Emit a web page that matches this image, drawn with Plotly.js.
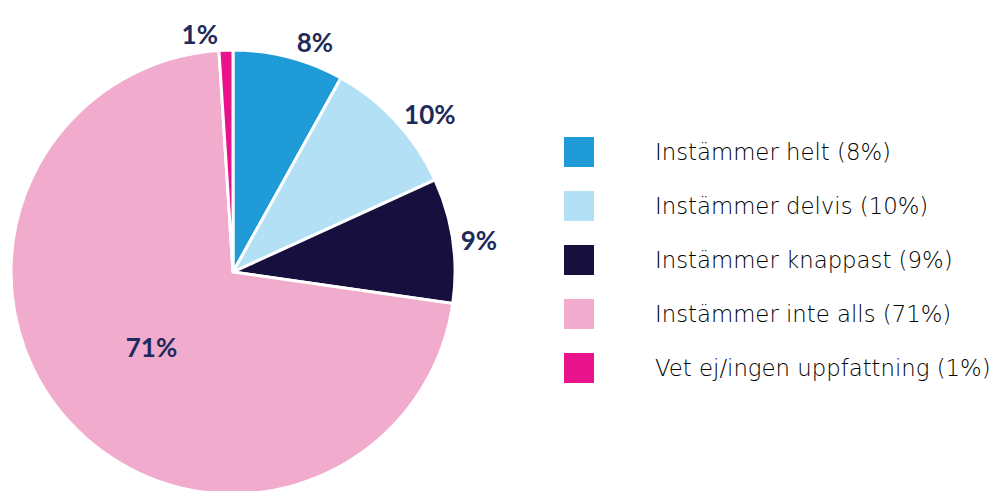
<!DOCTYPE html>
<html><head><meta charset="utf-8">
<script src="https://cdn.plot.ly/plotly-3.0.1.min.js"></script>
<style>html,body{margin:0;padding:0;overflow:hidden;background:#fff}#c{width:997px;height:500px}</style>
</head><body><div id="c"></div>
<script>
const labels = ['Instämmer helt (8%)','Instämmer delvis (10%)','Instämmer knappast (9%)','Instämmer inte alls (71%)','Vet ej/ingen uppfattning (1%)'];
const values = [8, 10, 9, 71, 1];
const sliceText = ['8%','10%','9%','71%','1%'];
const colors = ['#1f9bd7','#b3e0f5','#170f3e','#f1abcd','#e8138b'];

const W = 997, H = 500;
const px = x => x / W, py = y => 1 - y / H;

const shapes = [], annotations = [];
labels.forEach((lab, i) => {
  const yc = 152 + i * 54;
  shapes.push({type:'rect', xref:'paper', yref:'paper', x0:px(564), x1:px(594), y0:py(yc-15), y1:py(yc+15), fillcolor:colors[i], line:{width:0}});
  annotations.push({xref:'paper', yref:'paper', x:px(653), y:py(yc), xanchor:'left', yanchor:'middle', showarrow:false, text:lab, font:{family:'DejaVu Sans', size:22.8, color:'#000000', weight:200}});
});

const lblFont = {family:'Lato', size:26, color:'#1f2a5c', weight:'bold'};
const trace = {
  type:'pie', values:values, labels:labels, text:sliceText, textinfo:'text',
  sort:false, direction:'clockwise', rotation:0,
  marker:{colors:colors, line:{color:'#ffffff', width:3}},
  textposition:['outside','outside','outside','inside','outside'],
  insidetextorientation:'horizontal',
  textfont:lblFont, outsidetextfont:lblFont, insidetextfont:lblFont,
  domain:{x:[px(11), px(455)], y:[py(494), py(50)]},
  hoverinfo:'none', showlegend:false
};

Plotly.newPlot('c', [trace], {
  width:W, height:H, margin:{l:0,r:0,t:0,b:0},
  paper_bgcolor:'#fff', showlegend:false, shapes:shapes, annotations:annotations
}, {displayModeBar:false, staticPlot:true});
</script></body></html>
